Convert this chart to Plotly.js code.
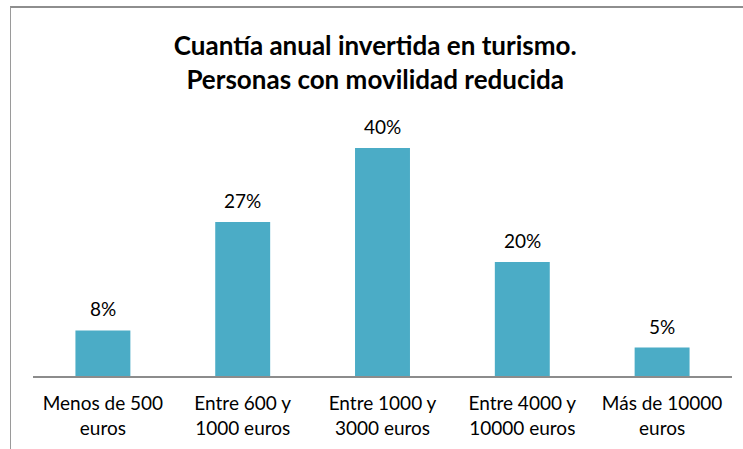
<!DOCTYPE html>
<html>
<head>
<meta charset="utf-8">
<script src="https://cdn.plot.ly/plotly-3.0.1.min.js"></script>
<style>
html, body { margin: 0; padding: 0; background: #fff; }
#wrap { position: relative; width: 743px; height: 449px; overflow: hidden; }
#chart { position: absolute; left: 0; top: 0; width: 743px; height: 449px; }
#frame { position: absolute; left: 10px; top: 6px; width: 740px; height: 450px;
  border-top: 2px solid #8e8e8e; border-left: 1px solid #9a9a9a; pointer-events: none; }
</style>
</head>
<body>
<div id="wrap">
  <div id="chart"></div>
  <div id="frame"></div>
</div>
<script>
var categories = [
  "Menos de 500<br>euros",
  "Entre 600 y<br>1000 euros",
  "Entre 1000 y<br>3000 euros",
  "Entre 4000 y<br>10000 euros",
  "Más de 10000<br>euros"
];
var values = [8, 27, 40, 20, 5];
var valueLabels = ["8%", "27%", "40%", "20%", "5%"];
var titleText = "<b>Cuantía anual invertida en turismo.</b><br><b>Personas con movilidad reducida</b>";

var FONT = "Lato, 'Open Sans', sans-serif";

var trace = {
  type: "bar",
  x: categories,
  y: values,
  marker: { color: "#4BACC6" },
  hoverinfo: "none"
};

var annotations = categories.map(function (c, i) {
  return {
    x: c, y: values[i], xref: "x", yref: "y",
    text: valueLabels[i], showarrow: false,
    yanchor: "bottom", yshift: 8,
    font: { family: FONT, size: 19, color: "#000" }
  };
});

var layout = {
  width: 743, height: 449,
  margin: { l: 32.5, r: 10.5, t: 125, b: 73 },
  paper_bgcolor: "rgba(0,0,0,0)",
  plot_bgcolor: "rgba(0,0,0,0)",
  bargap: 0.607,
  showlegend: false,
  title: {
    text: titleText,
    x: 0.505, xanchor: "center",
    y: 0.877, yanchor: "top",
    font: { family: FONT, size: 26, color: "#000" }
  },
  xaxis: {
    showline: true, linecolor: "#8c8c8c", linewidth: 1.5,
    ticks: "", showgrid: false, zeroline: false,
    tickfont: { family: FONT, size: 19, color: "#000" },
    ticklabelstandoff: 10,
    fixedrange: true
  },
  yaxis: {
    range: [0, 44.04], visible: false, showgrid: false, zeroline: false,
    fixedrange: true
  },
  annotations: annotations
};

Plotly.newPlot("chart", [trace], layout, { displayModeBar: false, staticPlot: true });
</script>
</body>
</html>
